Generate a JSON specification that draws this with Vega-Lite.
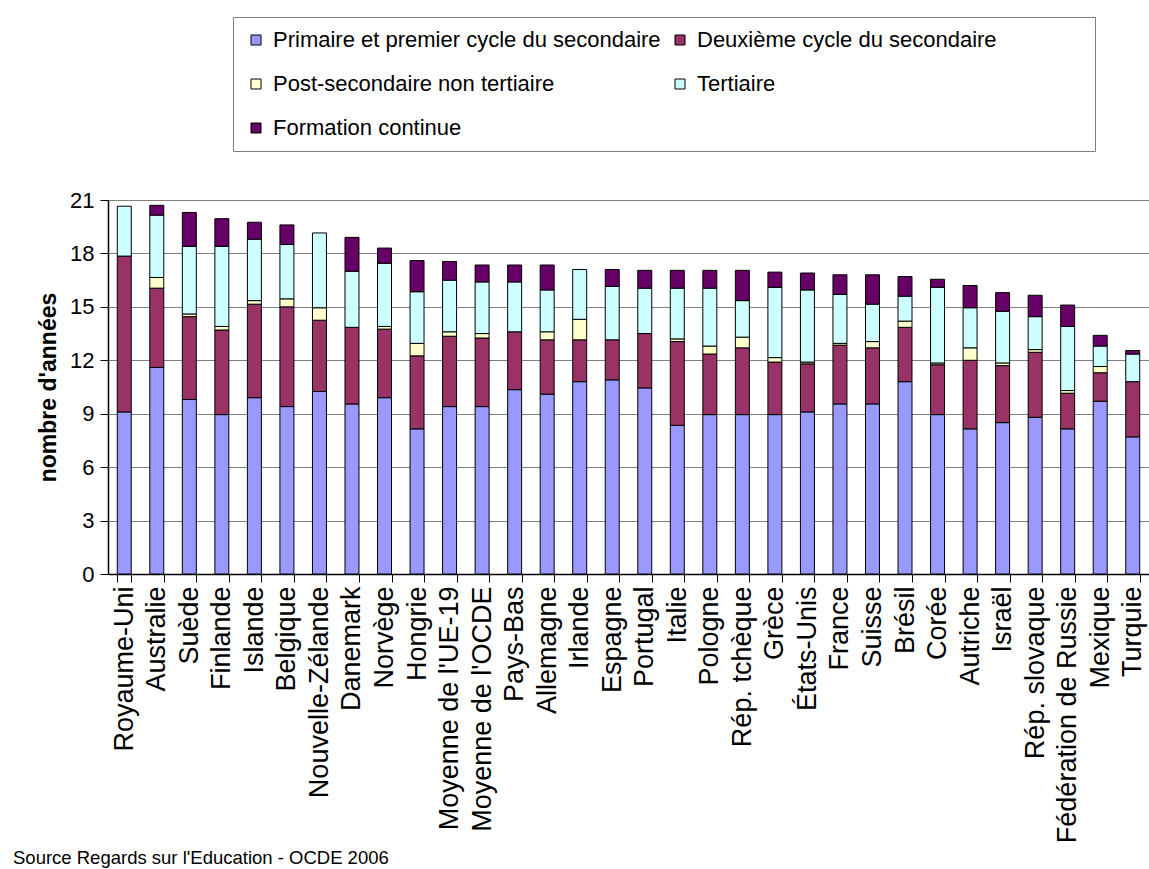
{
  "$schema": "https://vega.github.io/schema/vega-lite/v6.json",
  "width": 1041,
  "height": 374,
  "autosize": {"type": "none"},
  "padding": {"left": 108, "top": 200, "right": 0, "bottom": 295},
  "background": "white",
  "config": {
    "font": "Liberation Sans",
    "view": {"stroke": null}
  },
  "title": {
    "text": "Source Regards sur l'Education - OCDE 2006",
    "orient": "bottom",
    "anchor": "start",
    "frame": "group",
    "fontSize": 18.5,
    "fontWeight": "normal",
    "color": "black",
    "font": "Liberation Sans",
    "dx": -95,
    "offset": 6
  },
  "data": {
    "values": [
      {"pays": "Royaume-Uni", "Primaire et premier cycle du secondaire": 9.1, "Deuxième cycle du secondaire": 8.75, "Post-secondaire non tertiaire": 0, "Tertiaire": 2.8, "Formation continue": 0},
      {"pays": "Australie", "Primaire et premier cycle du secondaire": 11.6, "Deuxième cycle du secondaire": 4.45, "Post-secondaire non tertiaire": 0.6, "Tertiaire": 3.5, "Formation continue": 0.55},
      {"pays": "Suède", "Primaire et premier cycle du secondaire": 9.8, "Deuxième cycle du secondaire": 4.65, "Post-secondaire non tertiaire": 0.15, "Tertiaire": 3.8, "Formation continue": 1.9},
      {"pays": "Finlande", "Primaire et premier cycle du secondaire": 8.95, "Deuxième cycle du secondaire": 4.75, "Post-secondaire non tertiaire": 0.2, "Tertiaire": 4.5, "Formation continue": 1.55},
      {"pays": "Islande", "Primaire et premier cycle du secondaire": 9.9, "Deuxième cycle du secondaire": 5.25, "Post-secondaire non tertiaire": 0.2, "Tertiaire": 3.45, "Formation continue": 0.95},
      {"pays": "Belgique", "Primaire et premier cycle du secondaire": 9.4, "Deuxième cycle du secondaire": 5.6, "Post-secondaire non tertiaire": 0.45, "Tertiaire": 3.05, "Formation continue": 1.1},
      {"pays": "Nouvelle-Zélande", "Primaire et premier cycle du secondaire": 10.25, "Deuxième cycle du secondaire": 4.0, "Post-secondaire non tertiaire": 0.7, "Tertiaire": 4.2, "Formation continue": 0},
      {"pays": "Danemark", "Primaire et premier cycle du secondaire": 9.55, "Deuxième cycle du secondaire": 4.3, "Post-secondaire non tertiaire": 0, "Tertiaire": 3.15, "Formation continue": 1.9},
      {"pays": "Norvège", "Primaire et premier cycle du secondaire": 9.9, "Deuxième cycle du secondaire": 3.85, "Post-secondaire non tertiaire": 0.15, "Tertiaire": 3.55, "Formation continue": 0.85},
      {"pays": "Hongrie", "Primaire et premier cycle du secondaire": 8.15, "Deuxième cycle du secondaire": 4.1, "Post-secondaire non tertiaire": 0.7, "Tertiaire": 2.9, "Formation continue": 1.75},
      {"pays": "Moyenne de l'UE-19", "Primaire et premier cycle du secondaire": 9.4, "Deuxième cycle du secondaire": 3.95, "Post-secondaire non tertiaire": 0.25, "Tertiaire": 2.9, "Formation continue": 1.05},
      {"pays": "Moyenne de l'OCDE", "Primaire et premier cycle du secondaire": 9.4, "Deuxième cycle du secondaire": 3.85, "Post-secondaire non tertiaire": 0.25, "Tertiaire": 2.9, "Formation continue": 0.95},
      {"pays": "Pays-Bas", "Primaire et premier cycle du secondaire": 10.35, "Deuxième cycle du secondaire": 3.25, "Post-secondaire non tertiaire": 0, "Tertiaire": 2.8, "Formation continue": 0.95},
      {"pays": "Allemagne", "Primaire et premier cycle du secondaire": 10.1, "Deuxième cycle du secondaire": 3.05, "Post-secondaire non tertiaire": 0.45, "Tertiaire": 2.35, "Formation continue": 1.4},
      {"pays": "Irlande", "Primaire et premier cycle du secondaire": 10.8, "Deuxième cycle du secondaire": 2.35, "Post-secondaire non tertiaire": 1.15, "Tertiaire": 2.8, "Formation continue": 0},
      {"pays": "Espagne", "Primaire et premier cycle du secondaire": 10.9, "Deuxième cycle du secondaire": 2.25, "Post-secondaire non tertiaire": 0, "Tertiaire": 3.0, "Formation continue": 0.95},
      {"pays": "Portugal", "Primaire et premier cycle du secondaire": 10.45, "Deuxième cycle du secondaire": 3.05, "Post-secondaire non tertiaire": 0, "Tertiaire": 2.55, "Formation continue": 1.0},
      {"pays": "Italie", "Primaire et premier cycle du secondaire": 8.35, "Deuxième cycle du secondaire": 4.7, "Post-secondaire non tertiaire": 0.15, "Tertiaire": 2.85, "Formation continue": 1.0},
      {"pays": "Pologne", "Primaire et premier cycle du secondaire": 8.95, "Deuxième cycle du secondaire": 3.4, "Post-secondaire non tertiaire": 0.45, "Tertiaire": 3.25, "Formation continue": 1.0},
      {"pays": "Rép. tchèque", "Primaire et premier cycle du secondaire": 8.95, "Deuxième cycle du secondaire": 3.75, "Post-secondaire non tertiaire": 0.6, "Tertiaire": 2.05, "Formation continue": 1.7},
      {"pays": "Grèce", "Primaire et premier cycle du secondaire": 8.95, "Deuxième cycle du secondaire": 2.95, "Post-secondaire non tertiaire": 0.25, "Tertiaire": 3.95, "Formation continue": 0.85},
      {"pays": "États-Unis", "Primaire et premier cycle du secondaire": 9.1, "Deuxième cycle du secondaire": 2.7, "Post-secondaire non tertiaire": 0.1, "Tertiaire": 4.05, "Formation continue": 0.95},
      {"pays": "France", "Primaire et premier cycle du secondaire": 9.55, "Deuxième cycle du secondaire": 3.3, "Post-secondaire non tertiaire": 0.1, "Tertiaire": 2.75, "Formation continue": 1.1},
      {"pays": "Suisse", "Primaire et premier cycle du secondaire": 9.55, "Deuxième cycle du secondaire": 3.15, "Post-secondaire non tertiaire": 0.35, "Tertiaire": 2.1, "Formation continue": 1.65},
      {"pays": "Brésil", "Primaire et premier cycle du secondaire": 10.8, "Deuxième cycle du secondaire": 3.05, "Post-secondaire non tertiaire": 0.35, "Tertiaire": 1.4, "Formation continue": 1.1},
      {"pays": "Corée", "Primaire et premier cycle du secondaire": 8.95, "Deuxième cycle du secondaire": 2.8, "Post-secondaire non tertiaire": 0.1, "Tertiaire": 4.25, "Formation continue": 0.45},
      {"pays": "Autriche", "Primaire et premier cycle du secondaire": 8.15, "Deuxième cycle du secondaire": 3.85, "Post-secondaire non tertiaire": 0.7, "Tertiaire": 2.25, "Formation continue": 1.25},
      {"pays": "Israël", "Primaire et premier cycle du secondaire": 8.5, "Deuxième cycle du secondaire": 3.2, "Post-secondaire non tertiaire": 0.15, "Tertiaire": 2.9, "Formation continue": 1.05},
      {"pays": "Rép. slovaque", "Primaire et premier cycle du secondaire": 8.8, "Deuxième cycle du secondaire": 3.65, "Post-secondaire non tertiaire": 0.15, "Tertiaire": 1.85, "Formation continue": 1.2},
      {"pays": "Fédération de Russie", "Primaire et premier cycle du secondaire": 8.15, "Deuxième cycle du secondaire": 2.0, "Post-secondaire non tertiaire": 0.15, "Tertiaire": 3.6, "Formation continue": 1.2},
      {"pays": "Mexique", "Primaire et premier cycle du secondaire": 9.7, "Deuxième cycle du secondaire": 1.6, "Post-secondaire non tertiaire": 0.35, "Tertiaire": 1.15, "Formation continue": 0.6},
      {"pays": "Turquie", "Primaire et premier cycle du secondaire": 7.7, "Deuxième cycle du secondaire": 3.1, "Post-secondaire non tertiaire": 0, "Tertiaire": 1.55, "Formation continue": 0.2}
    ]
  },
  "transform": [
    {"fold": ["Primaire et premier cycle du secondaire", "Deuxième cycle du secondaire", "Post-secondaire non tertiaire", "Tertiaire", "Formation continue"], "as": ["niveau", "annees"]},
    {"window": [{"op": "row_number", "as": "rang"}], "groupby": ["pays"]},
    {"filter": "datum.annees > 0"}
  ],
  "mark": {"type": "bar", "stroke": "black", "strokeWidth": 1},
  "encoding": {
    "x": {
      "field": "pays",
      "type": "nominal",
      "sort": null,
      "scale": {"paddingInner": 0.57, "paddingOuter": 0.285},
      "axis": {
        "title": null,
        "labelAngle": -90,
        "labelFontSize": 27,
        "labelColor": "black",
        "labelFont": "Liberation Sans",
        "labelPadding": 4,
        "labelLimit": 0,
        "tickBand": "extent",
        "tickColor": "black",
        "tickSize": 8,
        "domainColor": "black",
        "domainWidth": 1.5
      }
    },
    "y": {
      "field": "annees",
      "type": "quantitative",
      "stack": "zero",
      "scale": {"domain": [0, 21], "nice": false},
      "axis": {
        "title": "nombre d'années",
        "titleFontSize": 23,
        "titleFontWeight": "bold",
        "titleColor": "black",
        "titleFont": "Liberation Sans",
        "titlePadding": 9,
        "values": [0, 3, 6, 9, 12, 15, 18, 21],
        "labelFontSize": 22,
        "labelColor": "black",
        "labelFont": "Liberation Sans",
        "labelPadding": 6,
        "tickColor": "black",
        "tickSize": 8,
        "domainColor": "black",
        "domainWidth": 1.5,
        "grid": true,
        "gridColor": "#808080",
        "gridWidth": 1.2
      }
    },
    "order": {"field": "rang", "type": "quantitative", "sort": "ascending"},
    "color": {
      "field": "niveau",
      "type": "nominal",
      "sort": ["Primaire et premier cycle du secondaire", "Deuxième cycle du secondaire", "Post-secondaire non tertiaire", "Tertiaire", "Formation continue"],
      "scale": {
        "domain": ["Primaire et premier cycle du secondaire", "Deuxième cycle du secondaire", "Post-secondaire non tertiaire", "Tertiaire", "Formation continue"],
        "range": ["#9999FF", "#993366", "#FFFFCC", "#CCFFFF", "#660066"]
      },
      "legend": {
        "orient": "none",
        "legendX": 125,
        "legendY": -183,
        "direction": "horizontal",
        "columns": 2,
        "title": "\u2800\u2800\u2800\u2800\u2800",
        "titleOrient": "right",
        "titleFontSize": 22,
        "titleFont": "DejaVu Sans",
        "titlePadding": 0,
        "labelFontSize": 22,
        "labelColor": "black",
        "labelFont": "Liberation Sans",
        "labelLimit": 600,
        "labelOffset": 6,
        "symbolType": "square",
        "symbolSize": 100,
        "symbolStrokeColor": "black",
        "symbolStrokeWidth": 1,
        "rowPadding": 22,
        "columnPadding": 8,
        "padding": 12,
        "strokeColor": "#808080",
        "fillColor": "white"
      }
    }
  }
}
